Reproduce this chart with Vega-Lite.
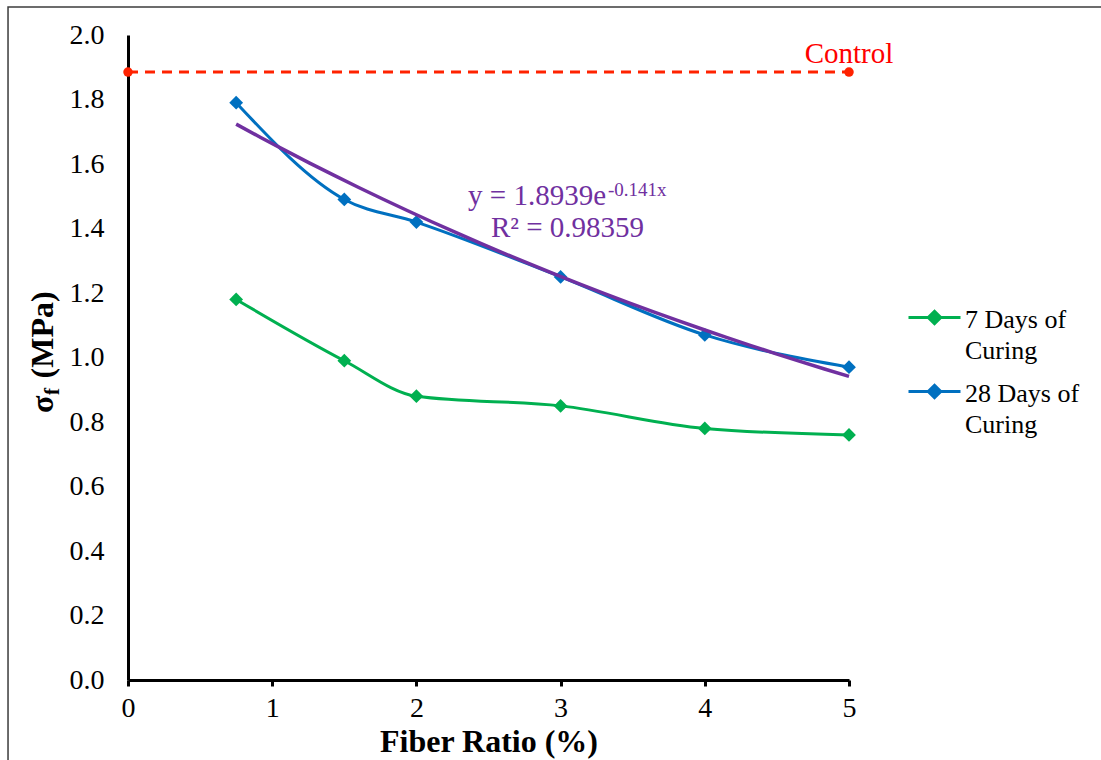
{
  "$schema": "https://vega.github.io/schema/vega-lite/v6.json",
  "width": 721,
  "height": 645,
  "autosize": {"type": "none"},
  "padding": {"left": 128, "top": 35, "right": 252, "bottom": 80},
  "background": "white",
  "datasets": {
    "series": [
      {"ratio": 0.75, "strength": 1.18, "series": "7 Days of Curing"},
      {"ratio": 1.5, "strength": 0.99, "series": "7 Days of Curing"},
      {"ratio": 2, "strength": 0.88, "series": "7 Days of Curing"},
      {"ratio": 3, "strength": 0.85, "series": "7 Days of Curing"},
      {"ratio": 4, "strength": 0.78, "series": "7 Days of Curing"},
      {"ratio": 5, "strength": 0.76, "series": "7 Days of Curing"},
      {"ratio": 0.75, "strength": 1.79, "series": "28 Days of Curing"},
      {"ratio": 1.5, "strength": 1.49, "series": "28 Days of Curing"},
      {"ratio": 2, "strength": 1.42, "series": "28 Days of Curing"},
      {"ratio": 3, "strength": 1.25, "series": "28 Days of Curing"},
      {"ratio": 4, "strength": 1.07, "series": "28 Days of Curing"},
      {"ratio": 5, "strength": 0.97, "series": "28 Days of Curing"}
    ],
    "control": [
      {"ratio": 0, "strength": 1.885},
      {"ratio": 5, "strength": 1.885}
    ],
    "frame": [
      {"x0": -0.832, "x1": 7.3, "y0": -0.6, "y1": 2.087}
    ],
    "one": [{}]
  },
  "config": {
    "view": {"stroke": null},
    "font": "Liberation Serif",
    "axis": {
      "grid": false,
      "domainColor": "black",
      "domainWidth": 3,
      "labelColor": "black",
      "labelFont": "Liberation Serif",
      "labelFontSize": 28,
      "titleFont": "Liberation Serif",
      "titleColor": "black",
      "titleFontWeight": "bold",
      "titleFontSize": 32
    }
  },
  "layer": [
    {
      "data": {"name": "series"},
      "mark": {"type": "line", "interpolate": "monotone", "strokeWidth": 3},
      "encoding": {
        "x": {
          "field": "ratio", "type": "quantitative",
          "scale": {"domain": [0, 5], "nice": false, "zero": false},
          "axis": {"title": "Fiber Ratio (%)", "values": [0, 1, 2, 3, 4, 5], "format": "d", "ticks": true, "tickSize": 6, "tickWidth": 3, "tickColor": "black", "labelPadding": 8, "titlePadding": 4, "labelFlush": false, "labelFont": "Liberation Serif", "labelFontSize": 28, "titleFont": "Liberation Serif"}
        },
        "y": {
          "field": "strength", "type": "quantitative",
          "scale": {"domain": [0, 2], "nice": false, "zero": false},
          "axis": {"title": null, "values": [0, 0.2, 0.4, 0.6, 0.8, 1.0, 1.2, 1.4, 1.6, 1.8, 2.0], "format": ".1f", "ticks": false, "tickSize": 0, "labelPadding": 24, "labelFlush": false, "labelFont": "Liberation Serif", "labelFontSize": 28}
        },
        "color": {
          "field": "series", "type": "nominal",
          "scale": {"domain": ["7 Days of Curing", "28 Days of Curing"], "range": ["#00B050", "#0070C0"]},
          "legend": {
            "title": null,
            "orient": "none",
            "legendX": 779,
            "legendY": 255,
            "padding": 0,
            "symbolType": "M-1,0H-0.24M0.24,0H1M0,-0.24L0.24,0L0,0.24L-0.24,0Z",
            "symbolSize": 2704,
            "symbolStrokeWidth": 3,
            "labelFont": "Liberation Serif",
            "labelFontSize": 26,
            "labelColor": "black",
            "labelOffset": 3,
            "labelLimit": 300,
            "rowPadding": -12,
            "labelExpr": "datum.label == '7 Days of Curing' ? ['7 Days of', 'Curing'] : ['28 Days of', 'Curing']",
            "encode": {
              "symbols": {"update": {"fill": {"scale": "color", "field": "value"}, "stroke": {"scale": "color", "field": "value"}, "strokeWidth": {"value": 3}}},
              "labels": {"update": {"lineHeight": {"value": 31}, "dy": {"value": 2}}}
            }
          }
        }
      }
    },
    {
      "data": {"name": "series"},
      "mark": {"type": "point", "shape": "diamond", "filled": true, "size": 190, "opacity": 1},
      "encoding": {
        "x": {"field": "ratio", "type": "quantitative", "scale": {"domain": [0, 5], "nice": false, "zero": false}},
        "y": {"field": "strength", "type": "quantitative", "scale": {"domain": [0, 2], "nice": false, "zero": false}},
        "color": {"field": "series", "type": "nominal", "legend": null}
      }
    },
    {
      "data": {"name": "series"},
      "transform": [
        {"filter": "datum.series == '28 Days of Curing'"},
        {"regression": "strength", "on": "ratio", "method": "exp", "extent": [0.75, 5]}
      ],
      "mark": {"type": "line", "color": "#7030A0", "strokeWidth": 3.5},
      "encoding": {
        "x": {"field": "ratio", "type": "quantitative", "scale": {"domain": [0, 5], "nice": false, "zero": false}},
        "y": {"field": "strength", "type": "quantitative", "scale": {"domain": [0, 2], "nice": false, "zero": false}}
      }
    },
    {
      "data": {"name": "control"},
      "mark": {"type": "line", "color": "#FF2200", "strokeWidth": 3, "strokeDash": [10, 7], "clip": false},
      "encoding": {
        "x": {"field": "ratio", "type": "quantitative", "scale": {"domain": [0, 5], "nice": false, "zero": false}},
        "y": {"field": "strength", "type": "quantitative", "scale": {"domain": [0, 2], "nice": false, "zero": false}}
      }
    },
    {
      "data": {"name": "control"},
      "mark": {"type": "point", "shape": "circle", "filled": true, "color": "#FF2200", "size": 90, "opacity": 1, "clip": false},
      "encoding": {
        "x": {"field": "ratio", "type": "quantitative", "scale": {"domain": [0, 5], "nice": false, "zero": false}},
        "y": {"field": "strength", "type": "quantitative", "scale": {"domain": [0, 2], "nice": false, "zero": false}}
      }
    },
    {
      "data": {"name": "one"},
      "mark": {"type": "text", "text": "Control", "color": "#FF0000", "fontSize": 29, "font": "Liberation Serif", "align": "center", "baseline": "alphabetic", "clip": false},
      "encoding": {
        "x": {"datum": 5, "type": "quantitative", "scale": {"domain": [0, 5], "nice": false, "zero": false}},
        "y": {"datum": 1.913, "type": "quantitative", "scale": {"domain": [0, 2], "nice": false, "zero": false}}
      }
    },
    {
      "data": {"name": "one"},
      "mark": {"type": "text", "text": "y = 1.8939e", "color": "#7030A0", "fontSize": 29, "font": "Liberation Serif", "align": "left", "baseline": "alphabetic"},
      "encoding": {
        "x": {"datum": 2.358, "type": "quantitative", "scale": {"domain": [0, 5], "nice": false, "zero": false}},
        "y": {"datum": 1.473, "type": "quantitative", "scale": {"domain": [0, 2], "nice": false, "zero": false}}
      }
    },
    {
      "data": {"name": "one"},
      "mark": {"type": "text", "text": "-0.141x", "color": "#7030A0", "fontSize": 19, "font": "Liberation Serif", "align": "left", "baseline": "alphabetic"},
      "encoding": {
        "x": {"datum": 3.329, "type": "quantitative", "scale": {"domain": [0, 5], "nice": false, "zero": false}},
        "y": {"datum": 1.501, "type": "quantitative", "scale": {"domain": [0, 2], "nice": false, "zero": false}}
      }
    },
    {
      "data": {"name": "one"},
      "mark": {"type": "text", "text": "R² = 0.98359", "color": "#7030A0", "fontSize": 29, "font": "Liberation Serif", "align": "left", "baseline": "alphabetic"},
      "encoding": {
        "x": {"datum": 2.517, "type": "quantitative", "scale": {"domain": [0, 5], "nice": false, "zero": false}},
        "y": {"datum": 1.374, "type": "quantitative", "scale": {"domain": [0, 2], "nice": false, "zero": false}}
      }
    },
    {
      "data": {"name": "one"},
      "mark": {"type": "text", "text": "σ", "color": "black", "fontSize": 32, "fontWeight": "bold", "font": "Liberation Serif", "align": "left", "baseline": "alphabetic", "angle": 270, "clip": false},
      "encoding": {
        "x": {"datum": -0.52, "type": "quantitative", "scale": {"domain": [0, 5], "nice": false, "zero": false}},
        "y": {"datum": 0.828, "type": "quantitative", "scale": {"domain": [0, 2], "nice": false, "zero": false}}
      }
    },
    {
      "data": {"name": "one"},
      "mark": {"type": "text", "text": "f", "color": "black", "fontSize": 21, "fontWeight": "bold", "font": "Liberation Serif", "align": "left", "baseline": "alphabetic", "angle": 270, "clip": false},
      "encoding": {
        "x": {"datum": -0.478, "type": "quantitative", "scale": {"domain": [0, 5], "nice": false, "zero": false}},
        "y": {"datum": 0.884, "type": "quantitative", "scale": {"domain": [0, 2], "nice": false, "zero": false}}
      }
    },
    {
      "data": {"name": "one"},
      "mark": {"type": "text", "text": "(MPa)", "color": "black", "fontSize": 32, "fontWeight": "bold", "font": "Liberation Serif", "align": "left", "baseline": "alphabetic", "angle": 270, "clip": false},
      "encoding": {
        "x": {"datum": -0.52, "type": "quantitative", "scale": {"domain": [0, 5], "nice": false, "zero": false}},
        "y": {"datum": 0.935, "type": "quantitative", "scale": {"domain": [0, 2], "nice": false, "zero": false}}
      }
    },
    {
      "data": {"name": "frame"},
      "mark": {"type": "rect", "fill": "transparent", "fillOpacity": 0, "stroke": "#3c3c3c", "strokeWidth": 1.5, "clip": false},
      "encoding": {
        "x": {"field": "x0", "type": "quantitative", "scale": {"domain": [0, 5], "nice": false, "zero": false}},
        "x2": {"field": "x1"},
        "y": {"field": "y0", "type": "quantitative", "scale": {"domain": [0, 2], "nice": false, "zero": false}},
        "y2": {"field": "y1"}
      }
    }
  ]
}
